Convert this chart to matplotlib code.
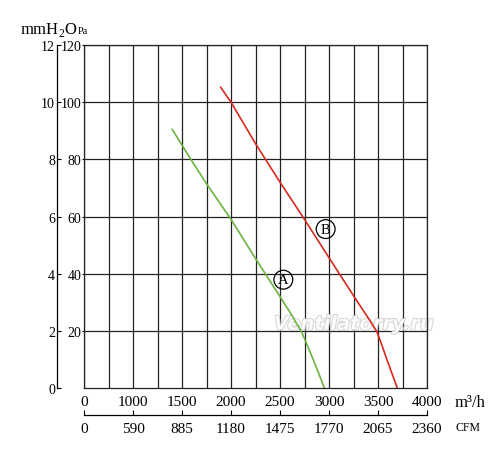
import matplotlib
matplotlib.use('Agg')
import matplotlib.pyplot as plt
import matplotlib.patheffects as pe
from matplotlib.ticker import FixedLocator, FixedFormatter, MultipleLocator

plt.rcParams['font.family'] = ['Liberation Serif', 'DejaVu Serif']
plt.rcParams['mathtext.fontset'] = 'custom'
plt.rcParams['mathtext.rm'] = 'Liberation Serif'

# airflow in m3/h (left edge of the chart is 500 but labelled 0), pressure in Pa
flow_a = [1400, 1590, 1750, 2000, 2250, 2500, 2620, 2722, 2823, 2891, 2952]
pres_a = [90.5, 80, 71.5, 59, 45.3, 32, 25.5, 19.5, 11.3, 5.5, 0]

flow_b = [1895, 2000, 2250, 2500, 2750, 3000, 3250, 3400, 3487, 3540, 3589, 3697]
pres_b = [105.2, 100, 85.5, 72, 59, 45.6, 32.3, 24.5, 19.8, 15, 10.1, 0]

x_ticks = [500, 1000, 1500, 2000, 2500, 3000, 3500, 4000]
x_labels = ['0', '1000', '1500', '2000', '2500', '3000', '3500', '4000']
cfm_labels = ['0', '590', '885', '1180', '1475', '1770', '2065', '2360']
pa_ticks = [20, 40, 60, 80, 100, 120]
mm_ticks = [0, 2, 4, 6, 8, 10, 12]

fig = plt.figure(figsize=(5, 4.56), dpi=100)
ax = fig.add_axes([0.168, 0.1469, 0.686, 0.7522])

ax.set_xlim(500, 4000)
ax.set_ylim(0, 120)
ax.xaxis.set_minor_locator(MultipleLocator(250))
ax.set_xticks(x_ticks)
ax.set_xticklabels(x_labels)
ax.set_yticks(pa_ticks)
ax.grid(True, which='both', axis='x', color='#222222', lw=0.9)
ax.grid(True, which='major', axis='y', color='#222222', lw=0.9)
ax.set_axisbelow(True)
for s in ax.spines.values():
    s.set_color('#222222')
    s.set_linewidth(0.9)

ax.tick_params(axis='x', which='both', length=0, pad=5, labelsize=11)
ax.tick_params(axis='y', length=1.5, pad=0.5, labelsize=10, direction='out')

# watermark, under the curves
ax.text(3255, 20.4, 'Ventilatorry.ru', fontsize=14, style='italic', weight='bold',
        family='DejaVu Sans', color='white', ha='center', va='baseline', zorder=1.5,
        path_effects=[pe.withStroke(linewidth=1.3, foreground='#cccccc')], alpha=0.85)

ax.plot(flow_a, pres_a, color='#6cb43f', lw=1.2, zorder=2)
ax.plot(flow_b, pres_b, color='#d62a1e', lw=1.2, zorder=2)

circ = dict(boxstyle='circle,pad=0.2', fc='none', ec='black', lw=0.9)
ax.text(2534, 37.9, 'A', fontsize=10.5, ha='center', va='center', bbox=circ)
ax.text(2966, 55.6, 'B', fontsize=10.5, ha='center', va='center', bbox=circ)

# mmH2O scale on the left
mm = ax.secondary_yaxis(-0.0787, functions=(lambda p: p / 10, lambda m: m * 10))
mm.set_yticks(mm_ticks)
mm.tick_params(direction='in', length=3, pad=1.5, labelsize=10)
mm.spines['left'].set_linewidth(0.9)

# CFM scale below
cfm = ax.secondary_xaxis(-0.0787)
cfm.xaxis.set_major_locator(FixedLocator(x_ticks))
cfm.xaxis.set_major_formatter(FixedFormatter(cfm_labels))
cfm.tick_params(direction='in', length=3.5, pad=5, labelsize=11)
cfm.spines['bottom'].set_linewidth(0.9)

fig.text(0.04, 0.925, r'mmH$_2$O', fontsize=12, ha='left', va='baseline')
fig.text(0.156, 0.925, 'Pa', fontsize=7.5, ha='left', va='baseline')
fig.text(0.91, 0.108, 'm³/h', fontsize=12, ha='left', va='baseline')
fig.text(0.912, 0.054, 'CFM', fontsize=8.5, ha='left', va='baseline')

fig.savefig('out.png', dpi=100)
